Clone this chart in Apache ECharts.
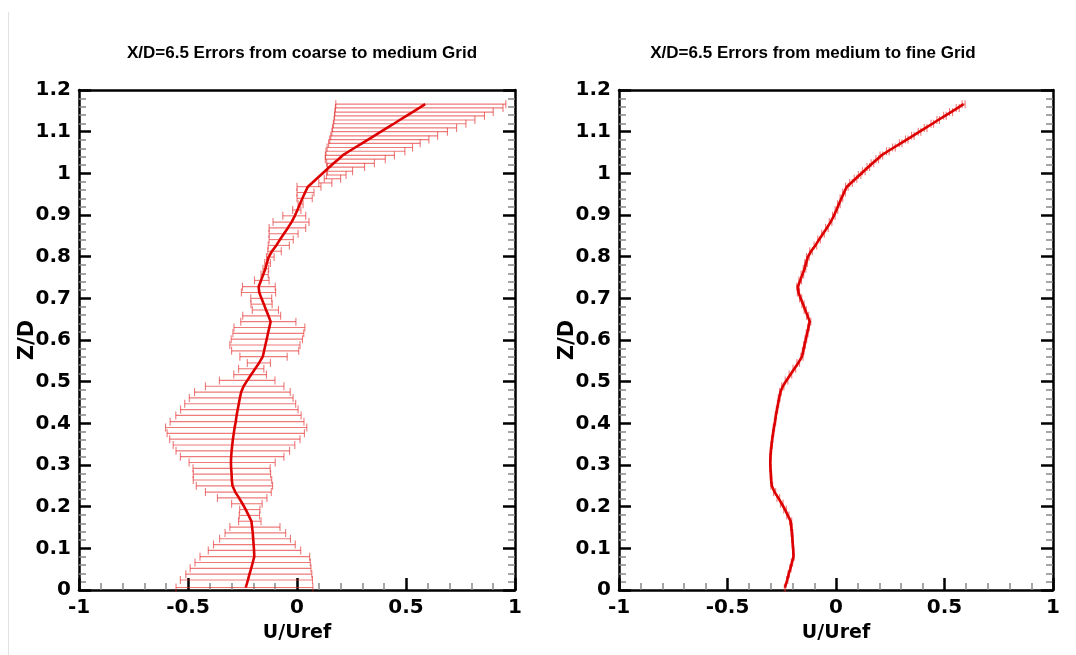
<!DOCTYPE html>
<html><head><meta charset="utf-8">
<script src="https://cdn.jsdelivr.net/npm/echarts@6/dist/echarts.min.js"></script>
<style>html,body{margin:0;padding:0;background:#fff;}#c{width:1076px;height:655px;}</style>
</head><body><div id="c"></div>
<script>
// ---- data ----
const titles = ['X/D=6.5 Errors from coarse to medium Grid', 'X/D=6.5 Errors from medium to fine Grid'];
const xName = 'U/Uref';
const yName = 'Z/D';

const zD = [0.006,0.024,0.038,0.052,0.066,0.080,0.095,0.109,0.123,0.137,
0.151,0.165,0.179,0.193,0.207,0.221,0.235,0.250,0.264,0.278,
0.292,0.306,0.320,0.334,0.348,0.362,0.376,0.390,0.404,0.419,
0.433,0.447,0.461,0.475,0.489,0.503,0.517,0.531,0.545,0.560,
0.574,0.588,0.602,0.616,0.630,0.644,0.658,0.672,0.686,0.700,
0.714,0.728,0.743,0.757,0.771,0.785,0.799,0.813,0.827,0.841,
0.855,0.869,0.883,0.898,0.912,0.926,0.940,0.954,0.968,0.977,
0.987,0.996,1.005,1.015,1.024,1.034,1.043,1.053,1.062,1.072,
1.081,1.090,1.100,1.109,1.119,1.128,1.138,1.147,1.157,1.166];

const uMedium = [-0.235,-0.225,-0.218,-0.210,-0.203,-0.196,-0.197,-0.199,-0.201,-0.203,
-0.206,-0.209,-0.222,-0.235,-0.250,-0.266,-0.283,-0.296,-0.299,-0.300,
-0.302,-0.303,-0.302,-0.300,-0.297,-0.294,-0.290,-0.286,-0.281,-0.277,
-0.272,-0.267,-0.262,-0.256,-0.245,-0.228,-0.210,-0.192,-0.174,-0.157,
-0.151,-0.145,-0.139,-0.133,-0.127,-0.121,-0.131,-0.142,-0.152,-0.163,
-0.173,-0.176,-0.165,-0.155,-0.145,-0.138,-0.130,-0.115,-0.095,-0.078,
-0.060,-0.042,-0.025,-0.010,0.002,0.013,0.025,0.037,0.050,0.069,
0.090,0.109,0.128,0.149,0.168,0.190,0.209,0.239,0.267,0.298,
0.326,0.354,0.385,0.413,0.444,0.471,0.502,0.530,0.561,0.588];

const coarseLow = [-0.555,-0.535,-0.510,-0.490,-0.468,-0.445,-0.407,-0.383,-0.355,-0.330,
-0.308,-0.268,-0.265,-0.263,-0.300,-0.365,-0.420,-0.462,-0.476,-0.476,
-0.477,-0.495,-0.535,-0.555,-0.568,-0.584,-0.596,-0.603,-0.582,-0.556,
-0.534,-0.515,-0.494,-0.470,-0.420,-0.356,-0.290,-0.268,-0.228,-0.262,
-0.300,-0.308,-0.302,-0.294,-0.289,-0.258,-0.249,-0.205,-0.211,-0.212,
-0.255,-0.250,-0.195,-0.165,-0.156,-0.148,-0.140,-0.134,-0.132,-0.128,
-0.128,-0.128,-0.110,-0.065,-0.020,0.005,0.000,0.000,0.000,0.100,
0.125,0.135,0.140,0.140,0.136,0.130,0.130,0.133,0.138,0.145,
0.150,0.155,0.160,0.163,0.167,0.170,0.172,0.174,0.176,0.178];

const coarseHigh = [0.073,0.071,0.068,0.064,0.061,0.058,0.017,-0.008,-0.030,-0.052,
-0.078,-0.165,-0.172,-0.170,-0.160,-0.138,-0.118,-0.112,-0.116,-0.121,
-0.123,-0.100,-0.060,-0.034,-0.010,0.014,0.034,0.045,0.032,0.019,
0.005,-0.006,-0.018,-0.031,-0.060,-0.101,-0.140,-0.152,-0.122,-0.045,
0.008,0.014,0.025,0.031,0.036,-0.005,-0.075,-0.085,-0.114,-0.116,
-0.098,-0.100,-0.128,-0.132,-0.130,-0.122,-0.105,-0.072,-0.035,-0.017,
0.005,0.040,0.055,0.040,0.018,0.028,0.070,0.078,0.110,0.160,
0.200,0.225,0.255,0.310,0.355,0.405,0.447,0.495,0.530,0.565,
0.605,0.645,0.690,0.732,0.775,0.816,0.860,0.900,0.945,0.958];

const fineErr = [0.003,0.003,0.003,0.003,0.003,0.003,0.003,0.003,0.003,0.004,
0.004,0.005,0.005,0.006,0.006,0.006,0.005,0.004,0.003,0.003,
0.003,0.003,0.003,0.003,0.003,0.003,0.003,0.003,0.003,0.003,
0.003,0.003,0.004,0.004,0.005,0.006,0.006,0.006,0.006,0.005,
0.004,0.004,0.004,0.004,0.004,0.005,0.005,0.005,0.005,0.005,
0.005,0.005,0.006,0.006,0.006,0.006,0.006,0.006,0.006,0.006,
0.006,0.006,0.006,0.006,0.006,0.006,0.006,0.006,0.006,0.006,
0.006,0.006,0.006,0.006,0.006,0.006,0.006,0.006,0.006,0.006,
0.006,0.006,0.006,0.006,0.006,0.006,0.006,0.007,0.007,0.007];

// ---- styling ----
const LINE_COLOR = '#dd0000';
const ERR_COLOR = 'rgba(228,40,40,0.62)';
const LABEL_FONT = {fontFamily: 'DejaVu Sans', fontWeight: 'bold', fontSize: 20, color: '#000'};
const NAME_FONT = {fontFamily: 'DejaVu Sans', fontWeight: 'bold', fontSize: 19, color: '#000'};

function renderErr(params, api) {
  const lo = api.coord([api.value(0), api.value(2)]);
  const hi = api.coord([api.value(1), api.value(2)]);
  const c = 4;
  const style = {stroke: ERR_COLOR, lineWidth: 1.1, fill: null};
  return {type: 'group', children: [
    {type: 'line', shape: {x1: lo[0], y1: lo[1], x2: hi[0], y2: hi[1]}, style: style},
    {type: 'line', shape: {x1: lo[0], y1: lo[1] - c, x2: lo[0], y2: lo[1] + c}, style: style},
    {type: 'line', shape: {x1: hi[0], y1: hi[1] - c, x2: hi[0], y2: hi[1] + c}, style: style}
  ]};
}

function xAxes(gi) {
  return [{
    type: 'value', gridIndex: gi, position: 'bottom', min: -1, max: 1, interval: 0.5,
    axisLine: {show: true, onZero: false, lineStyle: {color: '#000', width: 2.5}},
    axisTick: {show: true, inside: true, length: 12, lineStyle: {color: '#000', width: 2.5}},
    minorTick: {show: true, splitNumber: 5, length: 7, lineStyle: {color: '#888', width: 1.5}},
    splitLine: {show: false}, minorSplitLine: {show: false},
    axisLabel: Object.assign({margin: 8}, LABEL_FONT),
    name: xName, nameLocation: 'middle', nameGap: 34, nameMoveOverlap: false,
    nameTextStyle: NAME_FONT
  }, {
    type: 'value', gridIndex: gi, position: 'top', min: -1, max: 1, interval: 0.5,
    axisLine: {show: true, onZero: false, lineStyle: {color: '#000', width: 2.5}},
    axisTick: {show: false}, axisLabel: {show: false}, splitLine: {show: false}
  }];
}
function yAxes(gi) {
  const base = {
    type: 'value', gridIndex: gi, min: 0, max: 1.2, interval: 0.1,
    axisLine: {show: true, onZero: false, lineStyle: {color: '#000', width: 2.5}},
    axisTick: {show: true, inside: true, length: 12, lineStyle: {color: '#000', width: 2.5}},
    minorTick: {show: true, splitNumber: 5, length: 7, lineStyle: {color: '#888', width: 1.5}},
    splitLine: {show: false}, minorSplitLine: {show: false}
  };
  return [Object.assign({}, base, {
    position: 'left',
    axisLabel: Object.assign({margin: 8}, LABEL_FONT),
    name: yName, nameLocation: 'middle', nameRotate: 90, nameGap: 41, nameMoveOverlap: false,
    nameTextStyle: {fontFamily: 'DejaVu Sans', fontWeight: 'bold', fontSize: 21, color: '#000'}
  }), Object.assign({}, base, {position: 'right', axisLabel: {show: false}})];
}

const grids = [
  {left: 79, top: 90, width: 436, height: 500},
  {left: 619, top: 90, width: 434, height: 500}
];

const TITLE_STYLE = {fontFamily: 'Liberation Sans', fontWeight: 'bold', fontSize: 17, color: '#000'};
const option = {
  animation: false,
  backgroundColor: '#fff',
  title: [
    {text: titles[0], left: 297, top: 40, textAlign: 'center', textStyle: TITLE_STYLE},
    {text: titles[1], left: 808, top: 40, textAlign: 'center', textStyle: TITLE_STYLE}
  ],
  graphic: [{type: 'line', shape: {x1: 8.5, y1: 12, x2: 8.5, y2: 655}, style: {stroke: '#e2e2e2', lineWidth: 1}, silent: true}],
  grid: grids,
  xAxis: xAxes(0).concat(xAxes(1)),
  yAxis: yAxes(0).concat(yAxes(1)),
  series: [
    {type: 'custom', xAxisIndex: 0, yAxisIndex: 0, renderItem: renderErr, encode: {x: [0, 1], y: 2},
     data: zD.map((z, i) => [coarseLow[i], coarseHigh[i], z]), z: 1},
    {type: 'line', xAxisIndex: 0, yAxisIndex: 0, showSymbol: false, symbol: 'none',
     lineStyle: {color: LINE_COLOR, width: 2.6}, data: zD.map((z, i) => [uMedium[i], z]), z: 2},
    {type: 'custom', xAxisIndex: 2, yAxisIndex: 2, renderItem: renderErr, encode: {x: [0, 1], y: 2},
     data: zD.map((z, i) => [uMedium[i] - fineErr[i], uMedium[i] + fineErr[i], z]), z: 1},
    {type: 'line', xAxisIndex: 2, yAxisIndex: 2, showSymbol: false, symbol: 'none',
     lineStyle: {color: LINE_COLOR, width: 2.6}, data: zD.map((z, i) => [uMedium[i], z]), z: 2}
  ]
};
const chart = echarts.init(document.getElementById('c'));
chart.setOption(option);
</script>
</body></html>
